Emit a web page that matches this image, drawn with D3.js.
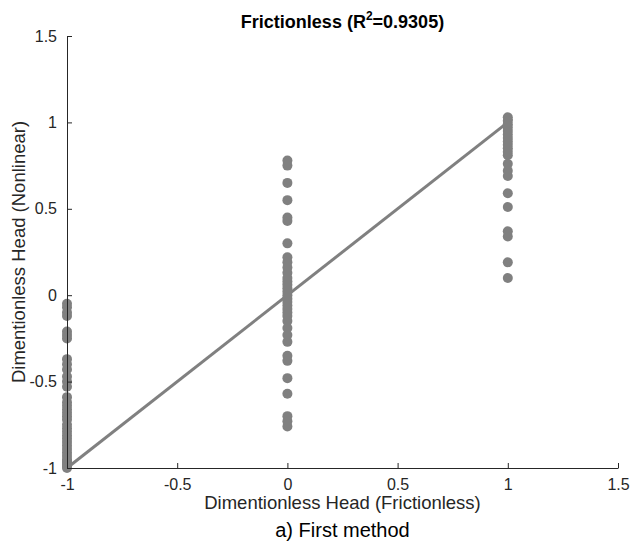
<!DOCTYPE html>
<html>
<head>
<meta charset="utf-8">
<script src="https://cdn.jsdelivr.net/npm/d3@7"></script>
<style>
  html, body { margin: 0; padding: 0; background: #fff; }
  svg { display: block; font-family: Arial, "Liberation Sans", sans-serif; }
</style>
</head>
<body>
<svg id="chart" width="630" height="553"></svg>
<script>
// Frictionless vs nonlinear dimensionless head, grouped at x = -1, 0, 1
const xGroups = [-1, 0, 1];
const headAtMinus1 = [-0.05, -0.07, -0.10, -0.12, -0.21, -0.23, -0.25, -0.37, -0.40, -0.43, -0.47,
  -0.50, -0.53, -0.59, -0.62, -0.64, -0.66, -0.68, -0.70, -0.72, -0.75, -0.77, -0.79, -0.81,
  -0.83, -0.85, -0.87, -0.89, -0.91, -0.93, -0.95, -0.96, -0.97, -0.98, -0.99, -1.00];
const headAt0 = [0.78, 0.75, 0.65, 0.55, 0.45, 0.43, 0.30, 0.22, 0.19, 0.16, 0.13, 0.10, 0.08,
  0.06, 0.04, 0.02, 0.00, -0.02, -0.04, -0.06, -0.08, -0.10, -0.12, -0.15, -0.19, -0.23, -0.27,
  -0.35, -0.38, -0.48, -0.57, -0.70, -0.73, -0.76];
const headAt1 = [1.03, 1.01, 0.99, 0.97, 0.95, 0.93, 0.91, 0.89, 0.87, 0.85, 0.83, 0.81,
  0.76, 0.72, 0.69, 0.59, 0.51, 0.37, 0.34, 0.19, 0.10];
const fitLine = [[-1, -1], [1.02, 1.02]];
const xTicks = [-1, -0.5, 0, 0.5, 1, 1.5];
const yTicks = [-1, -0.5, 0, 0.5, 1, 1.5];
const rSquared = "0.9305";

const svg = d3.select("#chart");
const margin = { left: 67, right: 12, top: 36, bottom: 85 };
const W = 630, H = 553;

const x = d3.scaleLinear().domain([-1, 1.5]).range([margin.left, W - margin.right]);
const y = d3.scaleLinear().domain([-1, 1.5]).range([H - margin.bottom, margin.top]);

const axisColor = "#262626";
const markColor = "#808080";

const points = [];
[headAtMinus1, headAt0, headAt1].forEach((vals, i) => {
  vals.forEach(v => points.push({ x: xGroups[i], y: v }));
});

svg.append("g").selectAll("circle")
  .data(points)
  .join("circle")
  .attr("cx", d => x(d.x))
  .attr("cy", d => y(d.y))
  .attr("r", 5)
  .attr("fill", markColor);

svg.append("path")
  .datum(fitLine)
  .attr("d", d3.line().x(d => x(d[0])).y(d => y(d[1])))
  .attr("stroke", markColor)
  .attr("stroke-width", 3)
  .attr("fill", "none");

// Axes with inward ticks
const fmt = d => String(d);
const xAxis = svg.append("g")
  .attr("transform", `translate(0,${y(-1)})`)
  .call(d3.axisBottom(x).tickValues(xTicks).tickFormat(fmt).tickSizeInner(-5).tickSizeOuter(0).tickPadding(11));
const yAxis = svg.append("g")
  .attr("transform", `translate(${x(-1)},0)`)
  .call(d3.axisLeft(y).tickValues(yTicks).tickFormat(fmt).tickSizeInner(-5).tickSizeOuter(0).tickPadding(10));

[xAxis, yAxis].forEach(g => {
  g.select(".domain").attr("stroke", axisColor).attr("stroke-width", 1);
  g.selectAll(".tick line").attr("stroke", axisColor);
  g.selectAll(".tick text").attr("fill", axisColor).style("font-size", "16px")
    .style("font-family", "Arial, 'Liberation Sans', sans-serif");
});

// Title
const title = svg.append("text")
  .attr("x", (x(-1) + x(1.5)) / 2)
  .attr("y", 28)
  .attr("text-anchor", "middle")
  .attr("fill", "#000")
  .style("font-size", "18px")
  .style("font-weight", "bold");
title.append("tspan").text("Frictionless (R");
title.append("tspan").attr("dy", -8).style("font-size", "12px").text("2");
title.append("tspan").attr("dy", 8).text(`=${rSquared})`);

// Axis labels
svg.append("text")
  .attr("x", (x(-1) + x(1.5)) / 2)
  .attr("y", 509)
  .attr("text-anchor", "middle")
  .attr("fill", axisColor)
  .style("font-size", "18.5px")
  .text("Dimentionless Head (Frictionless)");

svg.append("text")
  .attr("transform", `translate(25,${(y(-1) + y(1.5)) / 2}) rotate(-90)`)
  .attr("text-anchor", "middle")
  .attr("fill", axisColor)
  .style("font-size", "18.5px")
  .text("Dimentionless Head (Nonlinear)");

svg.append("text")
  .attr("x", (x(-1) + x(1.5)) / 2)
  .attr("y", 537)
  .attr("text-anchor", "middle")
  .attr("fill", "#000")
  .style("font-size", "20px")
  .text("a) First method");
</script>
</body>
</html>
